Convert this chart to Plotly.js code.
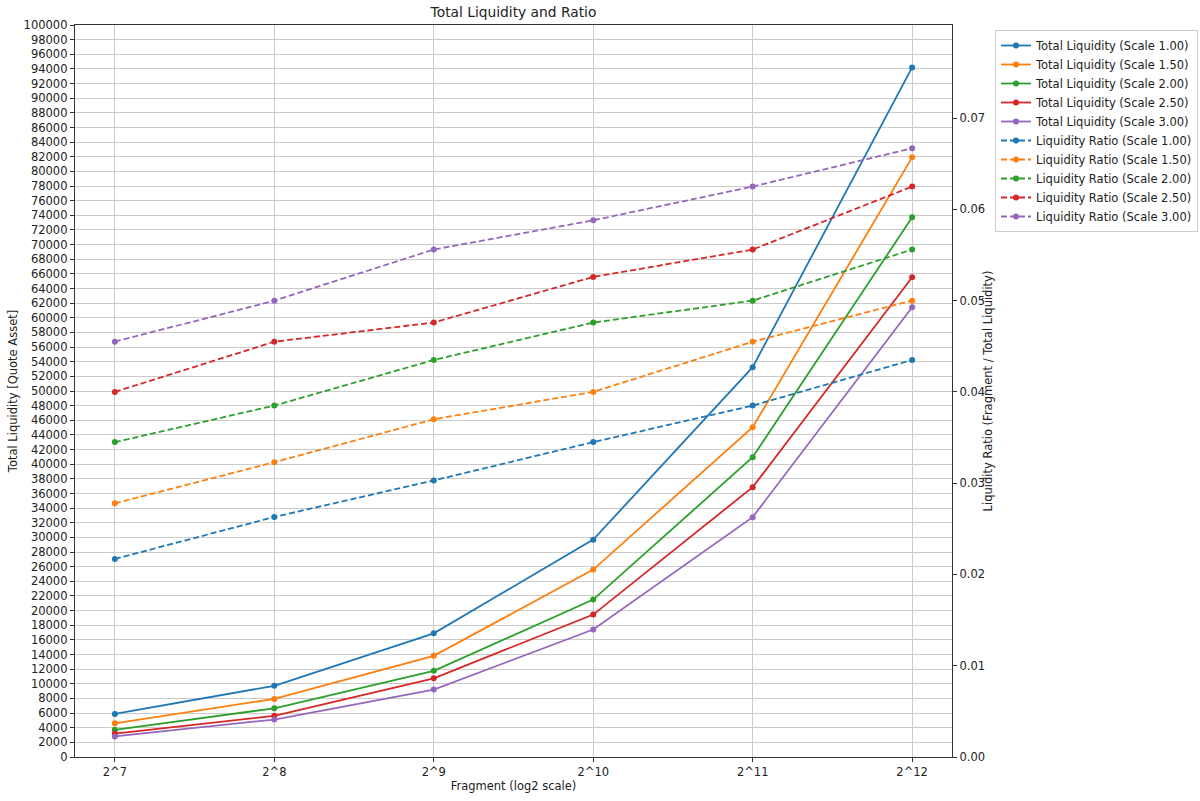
<!DOCTYPE html>
<html>
<head>
<meta charset="utf-8">
<script src="https://cdn.plot.ly/plotly-3.0.1.min.js"></script>
<style>
  html, body { margin: 0; padding: 0; background: #fff; }
  #chart { width: 1200px; height: 801px; }
</style>
</head>
<body>
<div id="chart"></div>
<script>
// fragments on the x axis
const fragments = ['2^7', '2^8', '2^9', '2^10', '2^11', '2^12']
const scales = ['1.00', '1.50', '2.00', '2.50', '3.00']
const colors = ['#1f77b4', '#ff7f0e', '#2ca02c', '#d62728', '#9467bd']

// total liquidity per scale (quote asset)
const total_1_00 = [5888, 9728, 16896, 29696, 53248, 94208]
const total_1_50 = [4608, 7936, 13824, 25600, 45056, 81920]
const total_2_00 = [3712, 6656, 11776, 21504, 40960, 73728]
const total_2_50 = [3200, 5632, 10752, 19456, 36864, 65536]
const total_3_00 = [2816, 5120, 9216, 17408, 32768, 61440]

// liquidity ratio per scale (fragment / total liquidity)
const ratio_1_00 = [0.0217, 0.0263, 0.0303, 0.0345, 0.0385, 0.0435]
const ratio_1_50 = [0.0278, 0.0323, 0.0370, 0.0400, 0.0455, 0.0500]
const ratio_2_00 = [0.0345, 0.0385, 0.0435, 0.0476, 0.0500, 0.0556]
const ratio_2_50 = [0.0400, 0.0455, 0.0476, 0.0526, 0.0556, 0.0625]
const ratio_3_00 = [0.0455, 0.0500, 0.0556, 0.0588, 0.0625, 0.0667]

const ratioTicks = [0, 0.01, 0.02, 0.03, 0.04, 0.05, 0.06, 0.07]

const totals = [total_1_00, total_1_50, total_2_00, total_2_50, total_3_00]
const ratios = [ratio_1_00, ratio_1_50, ratio_2_00, ratio_2_50, ratio_3_00]

const FONT = 'DejaVu Sans, sans-serif'
let traces = []

totals.forEach((y, i) => {
  traces.push({
    x: fragments, y,
    name: `Total Liquidity (Scale ${scales[i]})`,
    type: 'scatter', mode: 'lines+markers',
    line: {color: colors[i], width: 1.8},
    marker: {color: colors[i], size: 6},
    yaxis: 'y',
  })
})

ratios.forEach((y, i) => {
  traces.push({
    x: fragments, y,
    name: `Liquidity Ratio (Scale ${scales[i]})`,
    type: 'scatter', mode: 'lines+markers',
    line: {color: colors[i], width: 1.8, dash: '6px,3px'},
    marker: {color: colors[i], size: 6},
    yaxis: 'y2',
  })
})

let leftTicks = []
for (let v = 0; v <= 100000; v += 2000) leftTicks.push(v)

const layout = {
  width: 1200, height: 801,
  margin: {l: 75, r: 248, t: 25, b: 44},
  paper_bgcolor: '#fff', plot_bgcolor: '#fff',
  font: {family: FONT, size: 11.5, color: '#222'},
  title: {
    text: 'Total Liquidity and Ratio',
    font: {family: FONT, size: 13.8, color: '#222'},
    x: 0.5, xref: 'paper', xanchor: 'center',
    y: 0.985, yref: 'container', yanchor: 'middle',
  },
  xaxis: {
    type: 'category',
    range: [-0.25, 5.25],
    title: {text: 'Fragment (log2 scale)', standoff: 4, font: {size: 11.5}},
    showgrid: true, gridcolor: '#cbcbcb', gridwidth: 1,
    showline: true, linecolor: '#333', linewidth: 1.2, mirror: true,
    ticks: 'outside', ticklen: 4, tickcolor: '#333',
    zeroline: false, automargin: false,
  },
  yaxis: {
    range: [0, 100000],
    tickvals: leftTicks,
    tickformat: 'd',
    title: {text: 'Total Liquidity [Quote Asset]', standoff: 3, font: {size: 11.5}},
    showgrid: true, gridcolor: '#cbcbcb', gridwidth: 1,
    showline: true, linecolor: '#333', linewidth: 1.2,
    ticks: 'outside', ticklen: 4, tickcolor: '#333',
    zeroline: false, automargin: false,
  },
  yaxis2: {
    overlaying: 'y', side: 'right',
    range: [0, 0.0802],
    tickvals: ratioTicks,
    tickformat: '.2f',
    title: {text: 'Liquidity Ratio (Fragment / Total Liquidity)', standoff: 4, font: {size: 11.5}},
    showgrid: false,
    showline: true, linecolor: '#333', linewidth: 1.2,
    ticks: 'outside', ticklen: 4, tickcolor: '#333',
    zeroline: false, automargin: false,
  },
  legend: {
    xref: 'container', yref: 'container',
    x: 995 / 1200, xanchor: 'left',
    y: 1 - 30 / 801, yanchor: 'top',
    bgcolor: '#fff', bordercolor: '#cccccc', borderwidth: 1,
    font: {family: FONT, size: 11.5, color: '#222'},
    itemwidth: 30, tracegroupgap: 0,
  },
  showlegend: true,
}

Plotly.newPlot('chart', traces, layout, {displayModeBar: false, staticPlot: true})
</script>
</body>
</html>
